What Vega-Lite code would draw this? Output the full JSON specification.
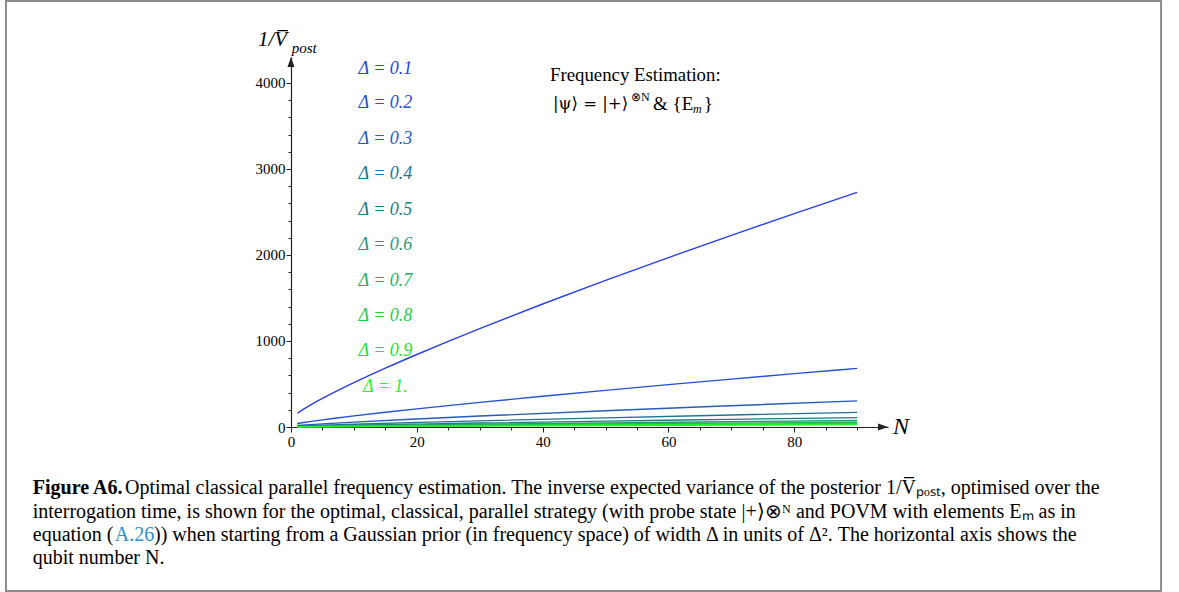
{
  "$schema": "https://vega.github.io/schema/vega-lite/v6.json",
  "width": 597,
  "height": 370,
  "autosize": {"type": "none"},
  "padding": {"left": 291, "top": 57, "right": 291, "bottom": 165},
  "background": "white",
  "config": {"view": {"stroke": null}, "font": "Liberation Serif"},
  "resolve": {"scale": {"x": "independent", "y": "independent"}, "axis": {"x": "independent", "y": "independent"}},
  "datasets": {
    "curves": [
      {"d": "0.1", "N": 1, "v": 160}, {"d": "0.1", "N": 2, "v": 207.4}, {"d": "0.1", "N": 3, "v": 251.0}, {"d": "0.1", "N": 5, "v": 331.9},
      {"d": "0.1", "N": 7, "v": 407.7}, {"d": "0.1", "N": 10, "v": 515.1}, {"d": "0.1", "N": 15, "v": 683.6}, {"d": "0.1", "N": 20, "v": 843.0},
      {"d": "0.1", "N": 25, "v": 996.3}, {"d": "0.1", "N": 30, "v": 1144.6}, {"d": "0.1", "N": 40, "v": 1430.1}, {"d": "0.1", "N": 50, "v": 1704.3},
      {"d": "0.1", "N": 60, "v": 1969.7}, {"d": "0.1", "N": 70, "v": 2228.2}, {"d": "0.1", "N": 80, "v": 2481.0}, {"d": "0.1", "N": 90, "v": 2728.6},
      {"d": "0.2", "N": 1, "v": 40}, {"d": "0.2", "N": 2, "v": 51.9}, {"d": "0.2", "N": 3, "v": 62.8}, {"d": "0.2", "N": 5, "v": 83.0},
      {"d": "0.2", "N": 7, "v": 101.9}, {"d": "0.2", "N": 10, "v": 128.8}, {"d": "0.2", "N": 15, "v": 170.9}, {"d": "0.2", "N": 20, "v": 210.8},
      {"d": "0.2", "N": 25, "v": 249.1}, {"d": "0.2", "N": 30, "v": 286.2}, {"d": "0.2", "N": 40, "v": 357.5}, {"d": "0.2", "N": 50, "v": 426.1},
      {"d": "0.2", "N": 60, "v": 492.4}, {"d": "0.2", "N": 70, "v": 557.1}, {"d": "0.2", "N": 80, "v": 620.3}, {"d": "0.2", "N": 90, "v": 682.2},
      {"d": "0.3", "N": 1, "v": 17.8}, {"d": "0.3", "N": 5, "v": 36.9}, {"d": "0.3", "N": 10, "v": 57.2}, {"d": "0.3", "N": 20, "v": 93.7},
      {"d": "0.3", "N": 30, "v": 127.2}, {"d": "0.3", "N": 50, "v": 189.4}, {"d": "0.3", "N": 70, "v": 247.6}, {"d": "0.3", "N": 90, "v": 303.2},
      {"d": "0.4", "N": 1, "v": 10.0}, {"d": "0.4", "N": 5, "v": 20.7}, {"d": "0.4", "N": 10, "v": 32.2}, {"d": "0.4", "N": 20, "v": 52.7},
      {"d": "0.4", "N": 30, "v": 71.5}, {"d": "0.4", "N": 50, "v": 106.5}, {"d": "0.4", "N": 70, "v": 139.3}, {"d": "0.4", "N": 90, "v": 170.5},
      {"d": "0.5", "N": 1, "v": 6.4}, {"d": "0.5", "N": 5, "v": 13.3}, {"d": "0.5", "N": 10, "v": 20.6}, {"d": "0.5", "N": 20, "v": 33.7},
      {"d": "0.5", "N": 30, "v": 45.8}, {"d": "0.5", "N": 50, "v": 68.2}, {"d": "0.5", "N": 70, "v": 89.1}, {"d": "0.5", "N": 90, "v": 109.1},
      {"d": "0.6", "N": 1, "v": 4.4}, {"d": "0.6", "N": 5, "v": 9.2}, {"d": "0.6", "N": 10, "v": 14.3}, {"d": "0.6", "N": 20, "v": 23.4},
      {"d": "0.6", "N": 30, "v": 31.8}, {"d": "0.6", "N": 50, "v": 47.3}, {"d": "0.6", "N": 70, "v": 61.9}, {"d": "0.6", "N": 90, "v": 75.8},
      {"d": "0.7", "N": 1, "v": 3.3}, {"d": "0.7", "N": 5, "v": 6.8}, {"d": "0.7", "N": 10, "v": 10.5}, {"d": "0.7", "N": 20, "v": 17.2},
      {"d": "0.7", "N": 30, "v": 23.4}, {"d": "0.7", "N": 50, "v": 34.8}, {"d": "0.7", "N": 70, "v": 45.5}, {"d": "0.7", "N": 90, "v": 55.7},
      {"d": "0.8", "N": 1, "v": 2.5}, {"d": "0.8", "N": 5, "v": 5.2}, {"d": "0.8", "N": 10, "v": 8.0}, {"d": "0.8", "N": 20, "v": 13.2},
      {"d": "0.8", "N": 30, "v": 17.9}, {"d": "0.8", "N": 50, "v": 26.6}, {"d": "0.8", "N": 70, "v": 34.8}, {"d": "0.8", "N": 90, "v": 42.6},
      {"d": "0.9", "N": 1, "v": 2.0}, {"d": "0.9", "N": 5, "v": 4.1}, {"d": "0.9", "N": 10, "v": 6.4}, {"d": "0.9", "N": 20, "v": 10.4},
      {"d": "0.9", "N": 30, "v": 14.1}, {"d": "0.9", "N": 50, "v": 21.0}, {"d": "0.9", "N": 70, "v": 27.5}, {"d": "0.9", "N": 90, "v": 33.7},
      {"d": "1", "N": 1, "v": 1.6}, {"d": "1", "N": 5, "v": 3.3}, {"d": "1", "N": 10, "v": 5.2}, {"d": "1", "N": 20, "v": 8.4},
      {"d": "1", "N": 30, "v": 11.4}, {"d": "1", "N": 50, "v": 17.0}, {"d": "1", "N": 70, "v": 22.3}, {"d": "1", "N": 90, "v": 27.3}
    ],
    "labels": [
      {"d": "0.1", "label": "Δ = 0.1", "N": 15, "v": 4163},
      {"d": "0.2", "label": "Δ = 0.2", "N": 15, "v": 3762},
      {"d": "0.3", "label": "Δ = 0.3", "N": 15, "v": 3349},
      {"d": "0.4", "label": "Δ = 0.4", "N": 15, "v": 2942},
      {"d": "0.5", "label": "Δ = 0.5", "N": 15, "v": 2523},
      {"d": "0.6", "label": "Δ = 0.6", "N": 15, "v": 2116},
      {"d": "0.7", "label": "Δ = 0.7", "N": 15, "v": 1703},
      {"d": "0.8", "label": "Δ = 0.8", "N": 15, "v": 1291},
      {"d": "0.9", "label": "Δ = 0.9", "N": 15, "v": 878},
      {"d": "1", "label": "Δ = 1.", "N": 15, "v": 465}
    ]
  },
  "layer": [
    {
      "data": {"values": [{}]},
      "mark": {"type": "rect", "fill": null, "stroke": "#8c8c8c", "strokeWidth": 2, "clip": false},
      "encoding": {
        "x": {"datum": -45.31, "type": "quantitative", "scale": {"domain": [0, 94.9], "nice": false, "zero": false}, "axis": null},
        "x2": {"datum": 138.31},
        "y": {"datum": 4953, "type": "quantitative", "scale": {"domain": [0, 4302], "nice": false, "zero": false}, "axis": null},
        "y2": {"datum": -1907}
      }
    },
    {
      "data": {"name": "curves"},
      "mark": {"type": "line", "strokeWidth": 1.4, "interpolate": "monotone"},
      "encoding": {
        "x": {
          "field": "N", "type": "quantitative",
          "scale": {"domain": [0, 94.9], "nice": false, "zero": false},
          "axis": {
            "title": null, "grid": false,
            "values": [0, 5, 10, 15, 20, 25, 30, 35, 40, 45, 50, 55, 60, 65, 70, 75, 80, 85, 90],
            "labelExpr": "datum.value % 20 === 0 ? datum.label : ''",
            "tickSize": {"condition": {"test": "datum.value % 20 === 0", "value": 5}, "value": 3},
            "domainColor": "#222", "tickColor": "#222", "domainWidth": 1.2,
            "labelFont": "Liberation Serif", "labelFontSize": 15, "labelColor": "black",
            "labelPadding": 2, "labelFlush": false, "labelOverlap": false
          }
        },
        "y": {
          "field": "v", "type": "quantitative",
          "scale": {"domain": [0, 4302], "nice": false, "zero": false},
          "axis": {
            "title": null, "grid": false,
            "values": [0, 200, 400, 600, 800, 1000, 1200, 1400, 1600, 1800, 2000, 2200, 2400, 2600, 2800, 3000, 3200, 3400, 3600, 3800, 4000, 4200],
            "labelExpr": "datum.value % 1000 === 0 ? datum.label : ''",
            "format": "d",
            "tickSize": {"condition": {"test": "datum.value % 1000 === 0", "value": 5}, "value": 3},
            "domainColor": "#222", "tickColor": "#222", "domainWidth": 1.2,
            "labelFont": "Liberation Serif", "labelFontSize": 15, "labelColor": "black",
            "labelPadding": 1, "labelFlush": false, "labelOverlap": false
          }
        },
        "color": {
          "field": "d", "type": "nominal",
          "scale": {
            "domain": ["0.1", "0.2", "0.3", "0.4", "0.5", "0.6", "0.7", "0.8", "0.9", "1"],
            "range": ["#2a3fe6", "#2450d2", "#245cb8", "#1f7398", "#1a7d80", "#1f9a78", "#20b35c", "#22cf48", "#14e62c", "#22f522"]
          },
          "legend": null
        }
      }
    },
    {
      "data": {"name": "labels"},
      "mark": {"type": "text", "align": "center", "baseline": "middle", "font": "Liberation Serif", "fontStyle": "italic", "fontSize": 18},
      "encoding": {
        "x": {"field": "N", "type": "quantitative", "scale": {"domain": [0, 94.9], "nice": false, "zero": false}, "axis": null},
        "y": {"field": "v", "type": "quantitative", "scale": {"domain": [0, 4302], "nice": false, "zero": false}, "axis": null},
        "text": {"field": "label"},
        "color": {"field": "d", "type": "nominal", "legend": null}
      }
    },
    {
      "data": {"values": [{}]},
      "mark": {"type": "text", "align": "left", "baseline": "middle", "font": "Liberation Serif", "fontSize": 18.8, "color": "black"},
      "encoding": {
        "x": {"datum": 41.18, "type": "quantitative", "scale": {"domain": [0, 94.9], "nice": false, "zero": false}, "axis": null},
        "y": {"datum": 4093, "type": "quantitative", "scale": {"domain": [0, 4302], "nice": false, "zero": false}, "axis": null},
        "text": {"value": "Frequency Estimation:"}
      }
    },
    {
      "data": {"values": [{}]},
      "mark": {"type": "text", "align": "left", "baseline": "middle", "font": "DejaVu Serif", "fontSize": 16.5, "color": "black"},
      "encoding": {
        "x": {"datum": 41.65, "type": "quantitative", "scale": {"domain": [0, 94.9], "nice": false, "zero": false}, "axis": null},
        "y": {"datum": 3756, "type": "quantitative", "scale": {"domain": [0, 4302], "nice": false, "zero": false}, "axis": null},
        "text": {"value": "|ψ⟩ = |+⟩"}
      }
    },
    {
      "data": {"values": [{}]},
      "mark": {"type": "text", "align": "left", "baseline": "middle", "font": "Liberation Serif", "fontSize": 12, "color": "black"},
      "encoding": {
        "x": {"datum": 54.05, "type": "quantitative", "scale": {"domain": [0, 94.9], "nice": false, "zero": false}, "axis": null},
        "y": {"datum": 3837, "type": "quantitative", "scale": {"domain": [0, 4302], "nice": false, "zero": false}, "axis": null},
        "text": {"value": "⊗N"}
      }
    },
    {
      "data": {"values": [{}]},
      "mark": {"type": "text", "align": "left", "baseline": "middle", "font": "Liberation Serif", "fontSize": 19, "color": "black"},
      "encoding": {
        "x": {"datum": 57.55, "type": "quantitative", "scale": {"domain": [0, 94.9], "nice": false, "zero": false}, "axis": null},
        "y": {"datum": 3756, "type": "quantitative", "scale": {"domain": [0, 4302], "nice": false, "zero": false}, "axis": null},
        "text": {"value": "&  {E"}
      }
    },
    {
      "data": {"values": [{}]},
      "mark": {"type": "text", "align": "left", "baseline": "middle", "font": "Liberation Serif", "fontStyle": "italic", "fontSize": 12, "color": "black"},
      "encoding": {
        "x": {"datum": 63.91, "type": "quantitative", "scale": {"domain": [0, 94.9], "nice": false, "zero": false}, "axis": null},
        "y": {"datum": 3698, "type": "quantitative", "scale": {"domain": [0, 4302], "nice": false, "zero": false}, "axis": null},
        "text": {"value": "m"}
      }
    },
    {
      "data": {"values": [{}]},
      "mark": {"type": "text", "align": "left", "baseline": "middle", "font": "Liberation Serif", "fontSize": 19, "color": "black"},
      "encoding": {
        "x": {"datum": 65.6, "type": "quantitative", "scale": {"domain": [0, 94.9], "nice": false, "zero": false}, "axis": null},
        "y": {"datum": 3756, "type": "quantitative", "scale": {"domain": [0, 4302], "nice": false, "zero": false}, "axis": null},
        "text": {"value": "}"}
      }
    },
    {
      "data": {"values": [{}]},
      "mark": {"type": "text", "align": "left", "baseline": "middle", "font": "Liberation Serif", "fontStyle": "italic", "fontSize": 21, "color": "black"},
      "encoding": {
        "x": {"datum": -5.25, "type": "quantitative", "scale": {"domain": [0, 94.9], "nice": false, "zero": false}, "axis": null},
        "y": {"datum": 4495, "type": "quantitative", "scale": {"domain": [0, 4302], "nice": false, "zero": false}, "axis": null},
        "text": {"value": "1/V̅"}
      }
    },
    {
      "data": {"values": [{}]},
      "mark": {"type": "text", "align": "left", "baseline": "middle", "font": "Liberation Serif", "fontStyle": "italic", "fontSize": 15, "color": "black"},
      "encoding": {
        "x": {"datum": 0.1, "type": "quantitative", "scale": {"domain": [0, 94.9], "nice": false, "zero": false}, "axis": null},
        "y": {"datum": 4410, "type": "quantitative", "scale": {"domain": [0, 4302], "nice": false, "zero": false}, "axis": null},
        "text": {"value": "post"}
      }
    },
    {
      "data": {"values": [{}]},
      "mark": {"type": "text", "align": "left", "baseline": "middle", "font": "Liberation Serif", "fontStyle": "italic", "fontSize": 24, "color": "black"},
      "encoding": {
        "x": {"datum": 95.71, "type": "quantitative", "scale": {"domain": [0, 94.9], "nice": false, "zero": false}, "axis": null},
        "y": {"datum": 0, "type": "quantitative", "scale": {"domain": [0, 4302], "nice": false, "zero": false}, "axis": null},
        "text": {"value": "N"}
      }
    },
    {
      "data": {"values": [{}]},
      "mark": {"type": "point", "shape": "M0,0L-1,-0.35L-1,0.35Z", "size": 400, "filled": true, "color": "#222", "opacity": 1, "clip": false},
      "encoding": {
        "x": {"datum": 94.9, "type": "quantitative", "scale": {"domain": [0, 94.9], "nice": false, "zero": false}, "axis": null},
        "y": {"datum": 0, "type": "quantitative", "scale": {"domain": [0, 4302], "nice": false, "zero": false}, "axis": null}
      }
    },
    {
      "data": {"values": [{}]},
      "mark": {"type": "point", "shape": "M0,0L-0.35,1L0.35,1Z", "size": 400, "filled": true, "color": "#222", "opacity": 1, "clip": false},
      "encoding": {
        "x": {"datum": 0, "type": "quantitative", "scale": {"domain": [0, 94.9], "nice": false, "zero": false}, "axis": null},
        "y": {"datum": 4302, "type": "quantitative", "scale": {"domain": [0, 4302], "nice": false, "zero": false}, "axis": null}
      }
    },
    {
      "data": {"values": [{}]},
      "mark": {"type": "text", "align": "left", "baseline": "middle", "font": "Liberation Serif", "fontSize": 20, "fontWeight": "bold", "color": "black"},
      "encoding": {
        "x": {"datum": -41.05, "type": "quantitative", "scale": {"domain": [0, 94.9], "nice": false, "zero": false}, "axis": null},
        "y": {"datum": -709, "type": "quantitative", "scale": {"domain": [0, 4302], "nice": false, "zero": false}, "axis": null},
        "text": {"value": "Figure A6."}
      }
    },
    {
      "data": {"values": [{}]},
      "mark": {"type": "text", "align": "left", "baseline": "middle", "font": "Liberation Serif", "fontSize": 20, "color": "black"},
      "encoding": {
        "x": {"datum": -26.39, "type": "quantitative", "scale": {"domain": [0, 94.9], "nice": false, "zero": false}, "axis": null},
        "y": {"datum": -709, "type": "quantitative", "scale": {"domain": [0, 4302], "nice": false, "zero": false}, "axis": null},
        "text": {"value": "Optimal classical parallel frequency estimation. The inverse expected variance of the posterior 1/V̅ₚₒₛₜ, optimised over the"}
      }
    },
    {
      "data": {"values": [{}]},
      "mark": {"type": "text", "align": "left", "baseline": "middle", "font": "Liberation Serif", "fontSize": 20, "color": "black"},
      "encoding": {
        "x": {"datum": -41.05, "type": "quantitative", "scale": {"domain": [0, 94.9], "nice": false, "zero": false}, "axis": null},
        "y": {"datum": -988, "type": "quantitative", "scale": {"domain": [0, 4302], "nice": false, "zero": false}, "axis": null},
        "text": {"value": "interrogation time, is shown for the optimal, classical, parallel strategy (with probe state |+⟩⊗ᴺ and POVM with elements Eₘ as in"}
      }
    },
    {
      "data": {"values": [{}]},
      "mark": {"type": "text", "align": "left", "baseline": "middle", "font": "Liberation Serif", "fontSize": 20, "color": "black"},
      "encoding": {
        "x": {"datum": -41.05, "type": "quantitative", "scale": {"domain": [0, 94.9], "nice": false, "zero": false}, "axis": null},
        "y": {"datum": -1256, "type": "quantitative", "scale": {"domain": [0, 4302], "nice": false, "zero": false}, "axis": null},
        "text": {"value": "equation ("}
      }
    },
    {
      "data": {"values": [{}]},
      "mark": {"type": "text", "align": "left", "baseline": "middle", "font": "Liberation Serif", "fontSize": 20, "color": "#2b8fcf"},
      "encoding": {
        "x": {"datum": -28.0, "type": "quantitative", "scale": {"domain": [0, 94.9], "nice": false, "zero": false}, "axis": null},
        "y": {"datum": -1256, "type": "quantitative", "scale": {"domain": [0, 4302], "nice": false, "zero": false}, "axis": null},
        "text": {"value": "A.26"}
      }
    },
    {
      "data": {"values": [{}]},
      "mark": {"type": "text", "align": "left", "baseline": "middle", "font": "Liberation Serif", "fontSize": 20, "color": "black"},
      "encoding": {
        "x": {"datum": -21.78, "type": "quantitative", "scale": {"domain": [0, 94.9], "nice": false, "zero": false}, "axis": null},
        "y": {"datum": -1256, "type": "quantitative", "scale": {"domain": [0, 4302], "nice": false, "zero": false}, "axis": null},
        "text": {"value": ")) when starting from a Gaussian prior (in frequency space) of width Δ in units of Δ². The horizontal axis shows the"}
      }
    },
    {
      "data": {"values": [{}]},
      "mark": {"type": "text", "align": "left", "baseline": "middle", "font": "Liberation Serif", "fontSize": 20, "color": "black"},
      "encoding": {
        "x": {"datum": -41.05, "type": "quantitative", "scale": {"domain": [0, 94.9], "nice": false, "zero": false}, "axis": null},
        "y": {"datum": -1523, "type": "quantitative", "scale": {"domain": [0, 4302], "nice": false, "zero": false}, "axis": null},
        "text": {"value": "qubit number N."}
      }
    }
  ]
}
